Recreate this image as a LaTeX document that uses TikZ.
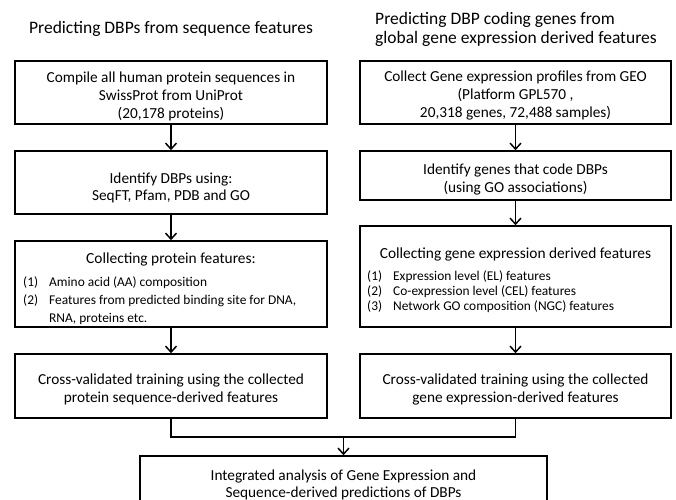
\documentclass[tikz,border=0pt]{standalone}
\usepackage{fontspec}
\setmainfont{Carlito}
\usetikzlibrary{arrows.meta}
\begin{document}
\begin{tikzpicture}[x=1pt,y=-1pt,
  box/.style={draw, line width=1.6pt, rectangle, inner sep=0pt},
  boxtext/.style={align=center, inner sep=0pt, font=\fontsize{15.3}{18}\selectfont},
  flow/.style={line width=1.5pt, -{Straight Barb[length=6pt,width=11pt,line width=1.5pt]}},
  joinline/.style={line width=1.5pt},
  title/.style={font=\fontsize{17.5}{19}\selectfont},
  head/.style={font=\fontsize{15.4}{18}\selectfont},
  listL/.style={font=\fontsize{13.4}{18}\selectfont, inner sep=0pt},
  listR/.style={font=\fontsize{13.4}{15}\selectfont, inner sep=0pt}]
\useasboundingbox (0,0) rectangle (676,499);

% column titles
\node[title, anchor=base] (tL) at (171,33) {Predicting DBPs from sequence features};
\node[title, anchor=base west, align=left, inner sep=0pt] (tR) at (375,43)
  {Predicting DBP coding genes from\\global gene expression derived features};

% sequence-based branch
\node[box, minimum width=312pt, minimum height=63pt] (L1) at (171,92.5) {};
\node[boxtext] (L1t) at ([yshift=-3.5pt]L1.center)
  {Compile all human protein sequences in\\SwissProt from UniProt\\(20,178 proteins)};
\node[box, minimum width=312pt, minimum height=63pt] (L2) at (171,182.5) {};
\node[boxtext, font=\fontsize{15.3}{17}\selectfont] (L2t) at ([yshift=-5.5pt]L2.center)
  {Identify DBPs using:\\SeqFT, Pfam, PDB and GO};
\node[box, minimum width=312pt, minimum height=86pt] (L3) at (171,284) {};
\node[head, anchor=base] (L3h) at (171,263) {Collecting protein features:};
\node[listL, anchor=base west] (L3l) at (23,286)
  {\begin{tabular}[t]{@{}p{26pt}@{}l@{}}
   (1) & Amino acid (AA) composition\\
   (2) & Features from predicted binding site for DNA,\\
       & RNA, proteins etc.
   \end{tabular}};
\node[box, minimum width=312pt, minimum height=64pt] (L4) at (171,386) {};
\node[boxtext] (L4t) at ([yshift=-3.5pt]L4.center)
  {Cross-validated training using the collected\\protein sequence-derived features};

% expression-based branch
\node[box, minimum width=311pt, minimum height=63pt] (R1) at (515.5,92.5) {};
\node[boxtext] (R1t) at ([yshift=-2.5pt]R1.center)
  {Collect Gene expression profiles from GEO\\(Platform GPL570 ,\\20,318 genes, 72,488 samples)};
\node[box, minimum width=311pt, minimum height=49pt] (R2) at (515.5,175.5) {};
\node[boxtext] (R2t) at ([yshift=-4pt]R2.center)
  {Identify genes that code DBPs\\(using GO associations)};
\node[box, minimum width=311pt, minimum height=101pt] (R3) at (515.5,276.5) {};
\node[head, anchor=base] (R3h) at (515.5,258) {Collecting gene expression derived features};
\node[listR, anchor=base west] (R3l) at (367,280.5)
  {\begin{tabular}[t]{@{}p{26pt}@{}l@{}}
   (1) & Expression level (EL) features\\
   (2) & Co-expression level (CEL) features\\
   (3) & Network GO composition (NGC) features
   \end{tabular}};
\node[box, minimum width=311pt, minimum height=64pt] (R4) at (515.5,386) {};
\node[boxtext] (R4t) at ([yshift=-3.5pt]R4.center)
  {Cross-validated training using the collected\\gene expression-derived features};

% integration
\node[box, minimum width=407pt, minimum height=57pt] (F) at (343.5,484.5) {};
\node[boxtext, font=\fontsize{15.3}{17}\selectfont] (Ft) at (F.center)
  {Integrated analysis of Gene Expression and\\Sequence-derived predictions of DBPs};

% connectors
\draw[flow] (L1) -- (L2);
\draw[flow] (L2) -- (L3);
\draw[flow] (L3) -- (L4);
\draw[flow] (R1) -- (R2);
\draw[flow] (R2) -- (R3);
\draw[flow] (R3) -- (R4);
\coordinate (J) at (343.5,437);
\draw[joinline] (L4.south) |- (J) -| (R4.south);
\draw[flow] (J) -- (F);
\end{tikzpicture}
\end{document}
